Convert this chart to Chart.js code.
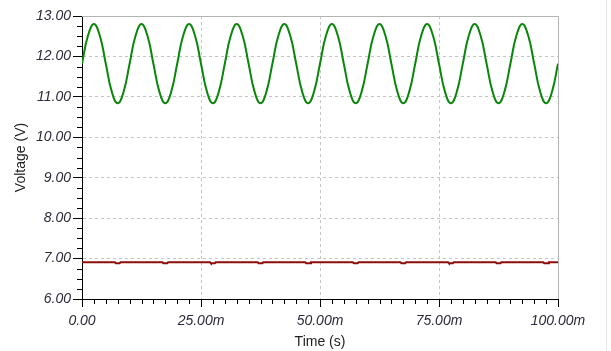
<!DOCTYPE html>
<html>
<head>
<meta charset="utf-8">
<script src="https://cdn.jsdelivr.net/npm/chart.js@4/dist/chart.umd.min.js"></script>
<style>
  html, body { margin: 0; padding: 0; background: #fff; }
  #wrap { position: relative; width: 611px; height: 351px; }
  #edge { position: absolute; left: 606px; top: 0; width: 1px; height: 351px; background: #e4e4e4; }
</style>
</head>
<body>
<div id="wrap">
  <canvas id="chart" width="611" height="351"></canvas>
  <div id="edge"></div>
</div>
<script>
// DATA (time in ms, voltage in V)
const greenTimes = [
  0, 1.25, 2.5, 3.75, 5, 6.25, 7.5, 8.75,
  10, 11.25, 12.5, 13.75, 15, 16.25, 17.5, 18.75,
  20, 21.25, 22.5, 23.75, 25, 26.25, 27.5, 28.75,
  30, 31.25, 32.5, 33.75, 35, 36.25, 37.5, 38.75,
  40, 41.25, 42.5, 43.75, 45, 46.25, 47.5, 48.75,
  50, 51.25, 52.5, 53.75, 55, 56.25, 57.5, 58.75,
  60, 61.25, 62.5, 63.75, 65, 66.25, 67.5, 68.75,
  70, 71.25, 72.5, 73.75, 75, 76.25, 77.5, 78.75,
  80, 81.25, 82.5, 83.75, 85, 86.25, 87.5, 88.75,
  90, 91.25, 92.5, 93.75, 95, 96.25, 97.5, 98.75,
  100
]
const greenValues = [
  11.82, 12.51, 12.80, 12.51, 11.82, 11.13, 10.84, 11.13,
  11.82, 12.51, 12.80, 12.51, 11.82, 11.13, 10.84, 11.13,
  11.82, 12.51, 12.80, 12.51, 11.82, 11.13, 10.84, 11.13,
  11.82, 12.51, 12.80, 12.51, 11.82, 11.13, 10.84, 11.13,
  11.82, 12.51, 12.80, 12.51, 11.82, 11.13, 10.84, 11.13,
  11.82, 12.51, 12.80, 12.51, 11.82, 11.13, 10.84, 11.13,
  11.82, 12.51, 12.80, 12.51, 11.82, 11.13, 10.84, 11.13,
  11.82, 12.51, 12.80, 12.51, 11.82, 11.13, 10.84, 11.13,
  11.82, 12.51, 12.80, 12.51, 11.82, 11.13, 10.84, 11.13,
  11.82, 12.51, 12.80, 12.51, 11.82, 11.13, 10.84, 11.13,
  11.82
]
const redTimes = [
  0,
  6.9, 7.1, 7.9, 8.1,
  16.9, 17.1, 17.9, 18.1,
  26.9, 27.1, 27.9, 28.1,
  36.9, 37.1, 37.9, 38.1,
  46.9, 47.1, 47.9, 48.1,
  56.9, 57.1, 57.9, 58.1,
  66.9, 67.1, 67.9, 68.1,
  76.9, 77.1, 77.9, 78.1,
  86.9, 87.1, 87.9, 88.1,
  96.9, 97.1, 97.9, 98.1,
  100
]
const redValues = [
  6.91,
  6.91, 6.885, 6.885, 6.91,
  6.91, 6.885, 6.885, 6.91,
  6.91, 6.885, 6.885, 6.91,
  6.91, 6.885, 6.885, 6.91,
  6.91, 6.885, 6.885, 6.91,
  6.91, 6.885, 6.885, 6.91,
  6.91, 6.885, 6.885, 6.91,
  6.91, 6.885, 6.885, 6.91,
  6.91, 6.885, 6.885, 6.91,
  6.91, 6.885, 6.885, 6.91,
  6.91
]
const yTicks = [6, 7, 8, 9, 10, 11, 12, 13]
const xTicks = [0, 25, 50, 75, 100]


// MINOR TICKS + FRAME
const framePlugin = {
  id: 'frame',
  afterDraw(chart) {
    const ctx = chart.ctx
    const xs = chart.scales.x
    const ys = chart.scales.y
    const area = chart.chartArea
    ctx.save()
    ctx.strokeStyle = '#000'
    ctx.lineWidth = 1
    ctx.beginPath()
    for (let v = 6; v < 13; v += 0.25) {
      if (Number.isInteger(v)) continue
      const py = Math.round(ys.getPixelForValue(v)) + 0.5
      ctx.moveTo(area.left - 5, py)
      ctx.lineTo(area.left, py)
    }
    for (let v = 0; v < 100; v += 2.5) {
      if (v % 25 === 0) continue
      const px = Math.round(xs.getPixelForValue(v)) + 0.5
      ctx.moveTo(px, area.bottom)
      ctx.lineTo(px, area.bottom + 5)
    }
    ctx.stroke()
    ctx.strokeStyle = '#b4b4b4'
    ctx.beginPath()
    ctx.moveTo(area.left, Math.round(area.top) + 0.5)
    ctx.lineTo(Math.round(area.right) + 0.5, Math.round(area.top) + 0.5)
    ctx.lineTo(Math.round(area.right) + 0.5, area.bottom)
    ctx.stroke()
    ctx.restore()
  }
}

const tickFont = { family: 'Liberation Sans, Arial, sans-serif', size: 14, style: 'italic' }
const titleFont = { family: 'Liberation Sans, Arial, sans-serif', size: 14 }

const ctx = document.getElementById('chart').getContext('2d')
const chart = new Chart(ctx, {
  type: 'line',
  data: {
    datasets: [{
      label: 'V1',
      data: greenTimes.map((t, i) => ({ x: t, y: greenValues[i] })),
      borderColor: '#0a870a',
      borderWidth: 2,
      pointRadius: 0,
      tension: 0.45,
      fill: false
    }, {
      label: 'V2',
      data: redTimes.map((t, i) => ({ x: t, y: redValues[i] })),
      borderColor: '#8e0c0c',
      borderWidth: 2,
      pointRadius: 0,
      tension: 0,
      fill: false
    }]
  },
  options: {
    responsive: false,
    animation: false,
    layout: { padding: { top: 16, right: 53, left: 0, bottom: 0 } },
    plugins: { legend: { display: false }, tooltip: { enabled: false } },
    scales: {
      x: {
        type: 'linear',
        min: 0,
        max: 100,
        afterBuildTicks: scale => { scale.ticks = xTicks.map(v => ({ value: v })) },
        afterFit: scale => { scale.height = 52 },
        border: { color: '#000', width: 1, dash: [3, 3] },
        grid: {
          color: c => (c.tick && (c.tick.value === 0 || c.tick.value === 100)) ? 'rgba(0,0,0,0)' : '#c4c4c4',
          tickBorderDash: [],
          tickColor: '#000',
          tickLength: 8
        },
        ticks: {
          color: '#2b2b3a',
          font: tickFont,
          padding: 6,
          maxRotation: 0,
          callback: v => v === 0 ? '0.00' : v.toFixed(2) + 'm'
        },
        title: {
          display: true,
          text: 'Time (s)',
          color: '#222',
          font: titleFont,
          padding: { top: 0, bottom: 0 }
        }
      },
      y: {
        min: 6,
        max: 13,
        afterBuildTicks: scale => { scale.ticks = yTicks.map(v => ({ value: v })) },
        afterFit: scale => { scale.width = 82 },
        border: { color: '#000', width: 1, dash: [3, 3] },
        grid: {
          color: c => (c.tick && (c.tick.value === 6 || c.tick.value === 13)) ? 'rgba(0,0,0,0)' : '#c4c4c4',
          tickBorderDash: [],
          tickColor: '#000',
          tickLength: 9
        },
        ticks: {
          color: '#2b2b3a',
          font: tickFont,
          padding: 2,
          callback: v => v.toFixed(2)
        },
        title: {
          display: true,
          text: 'Voltage (V)',
          color: '#222',
          font: titleFont,
          padding: { top: 13, bottom: 0 }
        }
      }
    }
  },
  plugins: [framePlugin]
})
</script>
</body>
</html>
